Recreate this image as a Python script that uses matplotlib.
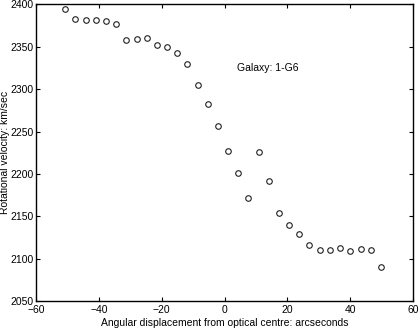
import matplotlib
matplotlib.use("Agg")
import matplotlib.pyplot as plt

# -----------------------------
# DATA
# -----------------------------
offset_arcsec = [-50.9, -47.5, -44.2, -41.0, -37.7, -34.5, -31.3, -27.9, -24.8,
                 -21.6, -18.4, -15.1, -11.9, -8.4, -5.3, -2.1, 1.1, 4.3, 7.5,
                 11.0, 14.2, 17.3, 20.5, 23.7, 26.9, 30.4, 33.6, 36.8, 40.0,
                 43.4, 46.6, 49.8]
velocity_kms = [2394.7, 2382.5, 2381.7, 2382.0, 2380.9, 2377.0, 2358.0, 2359.6,
                2360.8, 2352.5, 2350.2, 2343.0, 2329.8, 2305.0, 2283.0, 2256.0,
                2227.5, 2201.0, 2171.7, 2225.5, 2192.0, 2153.7, 2140.0, 2129.4,
                2116.0, 2110.0, 2109.8, 2112.0, 2109.0, 2111.7, 2110.0, 2090.4]

x_ticks = [-60, -40, -20, 0, 20, 40, 60]
y_ticks = [2050, 2100, 2150, 2200, 2250, 2300, 2350, 2400]

galaxy_label = "Galaxy: 1-G6"

plt.rcParams['font.family'] = ['Liberation Sans', 'DejaVu Sans']
plt.rcParams['font.size'] = 7.5

fig = plt.figure(figsize=(4.19, 3.28), dpi=100)
ax = fig.add_axes([0.0859, 0.0823, 0.8998, 0.904])

ax.plot(offset_arcsec, velocity_kms, linestyle='none', marker='o',
        markersize=4, markerfacecolor='none', markeredgecolor='#202020',
        markeredgewidth=0.8)

ax.text(4.0, 2325, galaxy_label, fontsize=7.5, va='center', ha='left')

ax.set_xlim(-60, 60)
ax.set_ylim(2050, 2400)
ax.set_xticks(x_ticks)
ax.set_yticks(y_ticks)
ax.tick_params(direction='in', length=3, width=0.8, top=True, right=True,
               labelsize=7.5)
ax.tick_params(axis='x', pad=3)
ax.tick_params(axis='y', pad=2)
for s in ax.spines.values():
    s.set_linewidth(1.0)

ax.set_xlabel("Angular displacement from optical centre: arcseconds", labelpad=2)
ax.set_ylabel("Rotational velocity: km/sec")
# place the y label close to the left edge, fully inside the figure
ax.yaxis.set_label_coords(-0.068, 0.5)

fig.savefig("out.png", dpi=100)
